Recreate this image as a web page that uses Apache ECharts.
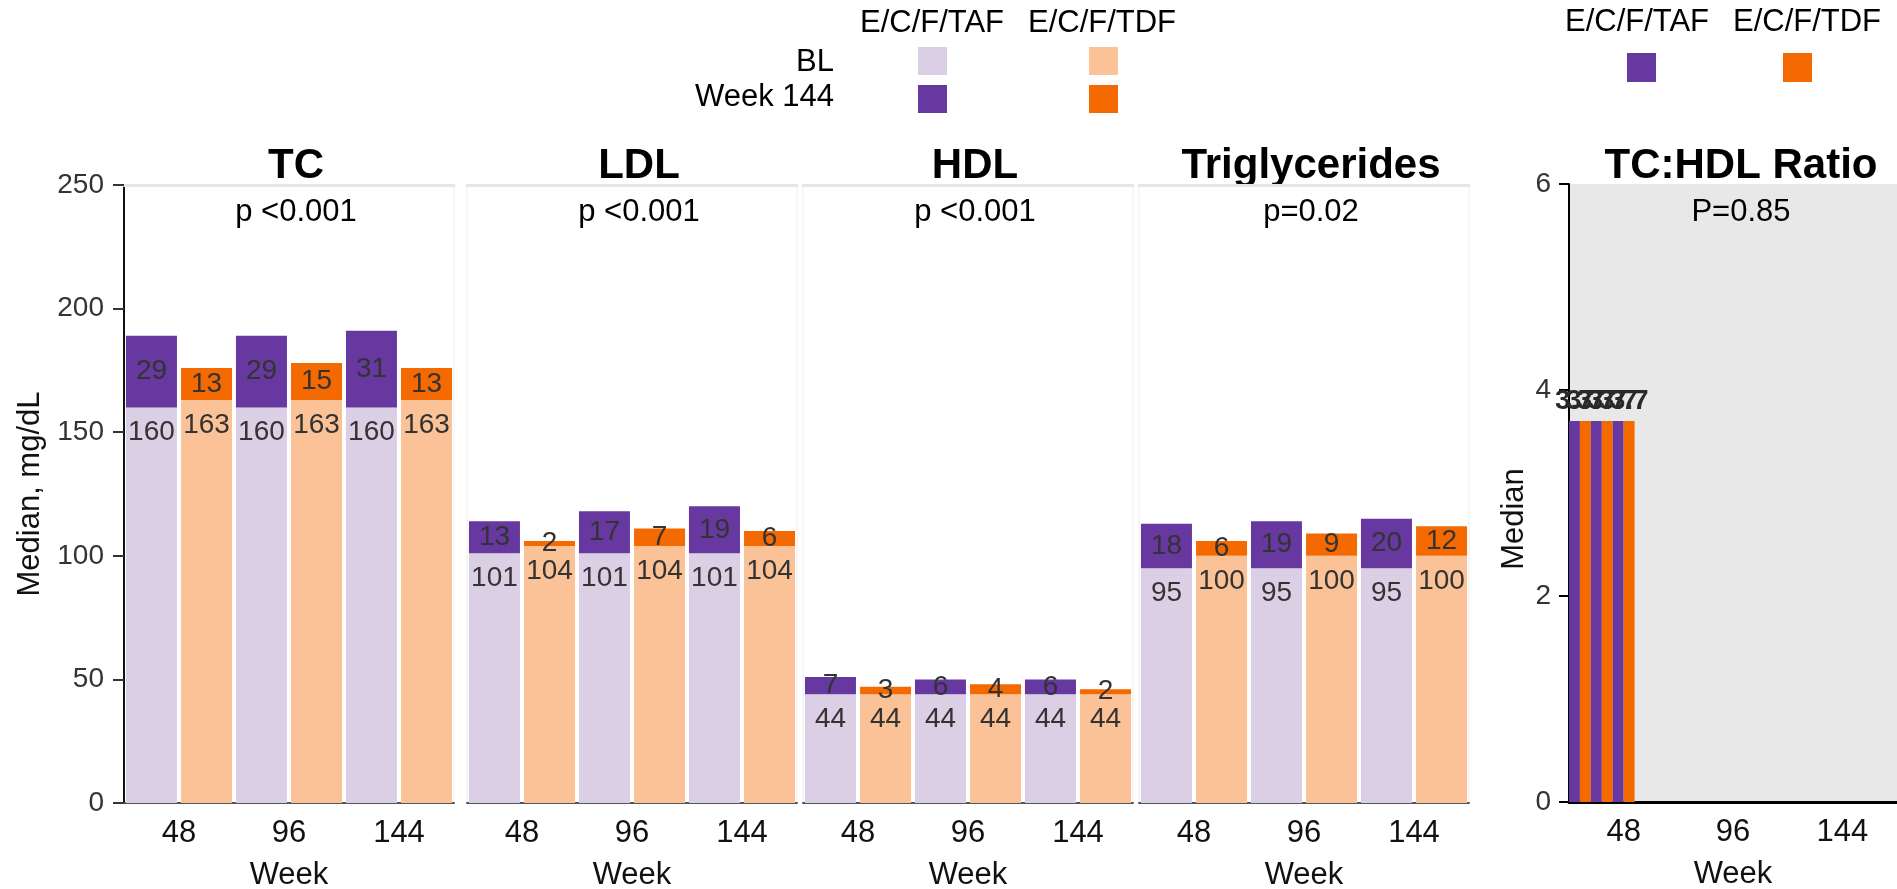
<!DOCTYPE html>
<html><head><meta charset="utf-8">
<script src="https://cdn.jsdelivr.net/npm/echarts@6/dist/echarts.min.js"></script>
<style>html,body{margin:0;padding:0;background:#fff}#c{width:1897px;height:889px}</style>
</head><body><div id="c"></div>
<script>
// ---------- data ----------
const weeks = ['48', '96', '144'];
const panelTitles = ['TC', 'LDL', 'HDL', 'Triglycerides'];
const panelPValues = ['p <0.001', 'p <0.001', 'p <0.001', 'p=0.02'];

const tcTafBL = [160, 160, 160];
const tcTafChg = [29, 29, 31];
const tcTdfBL = [163, 163, 163];
const tcTdfChg = [13, 15, 13];

const ldlTafBL = [101, 101, 101];
const ldlTafChg = [13, 17, 19];
const ldlTdfBL = [104, 104, 104];
const ldlTdfChg = [2, 7, 6];

const hdlTafBL = [44, 44, 44];
const hdlTafChg = [7, 6, 6];
const hdlTdfBL = [44, 44, 44];
const hdlTdfChg = [3, 4, 2];

const tgTafBL = [95, 95, 95];
const tgTafChg = [18, 19, 20];
const tgTdfBL = [100, 100, 100];
const tgTdfChg = [6, 9, 12];

const ratioTitle = 'TC:HDL Ratio';
const ratioPValue = 'P=0.85';
const ratioValues = [3.7, 3.7, 3.7, 3.7, 3.7, 3.7];

const lipidYTicks = [0, 50, 100, 150, 200, 250];
const ratioYTicks = [0, 2, 4, 6];

const groupNames = ['E/C/F/TAF', 'E/C/F/TDF'];
const rowNames = ['BL', 'Week 144'];

// ---------- style ----------
const FONT = '"Liberation Sans", Arial, Helvetica, sans-serif';
const C_TAF_BL = '#dbcfe5', C_TAF = '#6638a0', C_TDF_BL = '#fbc298', C_TDF = '#f56a00';

const lipidSets = [
  [tcTafBL, tcTafChg, tcTdfBL, tcTdfChg],
  [ldlTafBL, ldlTafChg, ldlTdfBL, ldlTdfChg],
  [hdlTafBL, hdlTafChg, hdlTdfBL, hdlTdfChg],
  [tgTafBL, tgTafChg, tgTdfBL, tgTdfChg]
];

const lefts = [124, 467, 803, 1139];
const PW = 330, TOP = 185, PH = 618;

const grid = [], xAxis = [], yAxis = [], series = [], graphic = [];

lefts.forEach((l, i) => {
  grid.push({left: l, top: TOP, width: PW, height: PH, containLabel: false, outerBoundsMode: 'none',
    show: true, borderColor: '#eeeeee', borderWidth: 1, backgroundColor: 'transparent'});
  xAxis.push({
    gridIndex: i, type: 'category', data: weeks, position: 'bottom',
    axisLine: {show: true, lineStyle: {color: '#555', width: 2}},
    axisTick: {show: false},
    axisLabel: {fontSize: 31, color: '#111', margin: 15, fontFamily: FONT},
    name: 'Week', nameLocation: 'middle', nameGap: 57,
    nameTextStyle: {fontSize: 31, color: '#111', fontFamily: FONT}
  });
  xAxis.push({
    gridIndex: i, type: 'category', data: weeks, position: 'top',
    axisLine: {show: true, lineStyle: {color: '#e6e6e6', width: 3}},
    axisTick: {show: false}, axisLabel: {show: false}
  });
  yAxis.push({
    gridIndex: i, type: 'value', min: lipidYTicks[0], max: lipidYTicks[lipidYTicks.length - 1],
    interval: lipidYTicks[1] - lipidYTicks[0],
    show: i === 0,
    axisLine: {show: true, lineStyle: {color: '#111', width: 2}},
    axisTick: {show: true, length: 11, lineStyle: {color: '#333', width: 2}},
    axisLabel: {fontSize: 28, color: '#333', margin: 20, fontFamily: FONT},
    splitLine: {show: false},
    name: i === 0 ? 'Median, mg/dL' : '', nameLocation: 'middle', nameGap: 78,
    nameTextStyle: {fontSize: 31, color: '#111', fontFamily: FONT}
  });
  const [tb, tc, db, dc] = lipidSets[i];
  const common = {type: 'bar', xAxisIndex: 2 * i, yAxisIndex: i, barWidth: 51, barGap: '8%'};
  const blLabel = {show: true, position: 'insideTop', distance: 11, fontSize: 28, color: '#333', fontFamily: FONT};
  const chLabel = {show: true, position: 'inside', fontSize: 28, color: '#333', fontFamily: FONT};
  series.push(Object.assign({name: groupNames[0] + ' BL', stack: 'taf' + i, data: tb, itemStyle: {color: C_TAF_BL}, label: blLabel}, common));
  series.push(Object.assign({name: groupNames[0] + ' W144', stack: 'taf' + i, data: tc, itemStyle: {color: C_TAF}, label: chLabel}, common));
  series.push(Object.assign({name: groupNames[1] + ' BL', stack: 'tdf' + i, data: db, itemStyle: {color: C_TDF_BL}, label: blLabel}, common));
  series.push(Object.assign({name: groupNames[1] + ' W144', stack: 'tdf' + i, data: dc, itemStyle: {color: C_TDF}, label: chLabel}, common));

  graphic.push({type: 'text', x: l + PW / 2 + 7, y: 166, style: {text: panelTitles[i], fontSize: 42, fontWeight: 'bold', fontFamily: FONT, fill: '#000', textAlign: 'center', textVerticalAlign: 'middle'}});
  graphic.push({type: 'text', x: l + PW / 2 + 7, y: 212, style: {text: panelPValues[i], fontSize: 31, fontFamily: FONT, fill: '#000', textAlign: 'center', textVerticalAlign: 'middle'}});
});

// ratio panel
const RL = 1569;
grid.push({left: RL, top: 184, width: 1897 - RL, height: PH, containLabel: false, outerBoundsMode: 'none',
  show: true, backgroundColor: '#e8e8e8', borderWidth: 0});
xAxis.push({
  gridIndex: 4, type: 'category', data: weeks,
  axisLine: {show: true, lineStyle: {color: '#000', width: 3}},
  axisTick: {show: false},
  axisLabel: {fontSize: 31, color: '#111', margin: 15, fontFamily: FONT},
  name: 'Week', nameLocation: 'middle', nameGap: 57,
  nameTextStyle: {fontSize: 31, color: '#111', fontFamily: FONT}
});
// hidden slot axis on which the ratio bars were (mis)placed in the source figure
xAxis.push({gridIndex: 4, type: 'category', show: false, data: Array.from({length: 30}, (_, k) => 'slot' + k)});
yAxis.push({
  gridIndex: 4, type: 'value', min: ratioYTicks[0], max: ratioYTicks[ratioYTicks.length - 1],
  interval: ratioYTicks[1] - ratioYTicks[0],
  axisLine: {show: true, lineStyle: {color: '#000', width: 2}},
  axisTick: {show: true, length: 10, lineStyle: {color: '#000', width: 2}},
  axisLabel: {fontSize: 28, color: '#333', margin: 18, fontFamily: FONT},
  splitLine: {show: false}
});
series.push({
  type: 'bar', name: ratioTitle, xAxisIndex: 9, yAxisIndex: 4, barCategoryGap: '0%',
  data: ratioValues.map((v, k) => ({value: v, itemStyle: {color: k % 2 ? C_TDF : C_TAF}})),
  label: {show: true, position: 'top', distance: 6, fontSize: 28, fontWeight: 'bold', color: '#2a2a2a', fontFamily: FONT}
});
graphic.push({type: 'text', x: RL + (1897 - RL) / 2 + 8, y: 166, style: {text: ratioTitle, fontSize: 42, fontWeight: 'bold', fontFamily: FONT, fill: '#000', textAlign: 'center', textVerticalAlign: 'middle'}});
graphic.push({type: 'text', x: RL + (1897 - RL) / 2 + 8, y: 212, style: {text: ratioPValue, fontSize: 31, fontFamily: FONT, fill: '#000', textAlign: 'center', textVerticalAlign: 'middle'}});
graphic.push({type: 'text', x: 1514, y: 519, rotation: Math.PI / 2, style: {text: 'Median', fontSize: 31, fontFamily: FONT, fill: '#111', textAlign: 'center', textVerticalAlign: 'middle'}});

// legends (matrix style)
const legText = (t, x, y, align) => ({type: 'text', x, y, style: {text: t, fontSize: 31, fontFamily: FONT, fill: '#000', textAlign: align, textVerticalAlign: 'middle'}});
const legRect = (x, y, w, h, c) => ({type: 'rect', shape: {x, y, width: w, height: h}, style: {fill: c}});
graphic.push(legText(groupNames[0], 932, 23, 'center'));
graphic.push(legText(groupNames[1], 1102, 23, 'center'));
graphic.push(legText(rowNames[0], 834, 62, 'right'));
graphic.push(legText(rowNames[1], 834, 97, 'right'));
graphic.push(legRect(918, 47, 29, 28, C_TAF_BL));
graphic.push(legRect(1089, 47, 29, 28, C_TDF_BL));
graphic.push(legRect(918, 85, 29, 28, C_TAF));
graphic.push(legRect(1089, 85, 29, 28, C_TDF));
graphic.push(legText(groupNames[0], 1637, 22, 'center'));
graphic.push(legText(groupNames[1], 1807, 22, 'center'));
graphic.push(legRect(1627, 53, 29, 29, C_TAF));
graphic.push(legRect(1783, 53, 29, 29, C_TDF));

const chart = echarts.init(document.getElementById('c'), null, {renderer: 'canvas'});
chart.setOption({
  animation: false,
  backgroundColor: '#ffffff',
  textStyle: {fontFamily: FONT},
  grid, xAxis, yAxis, series, graphic
});
</script>
</body></html>
